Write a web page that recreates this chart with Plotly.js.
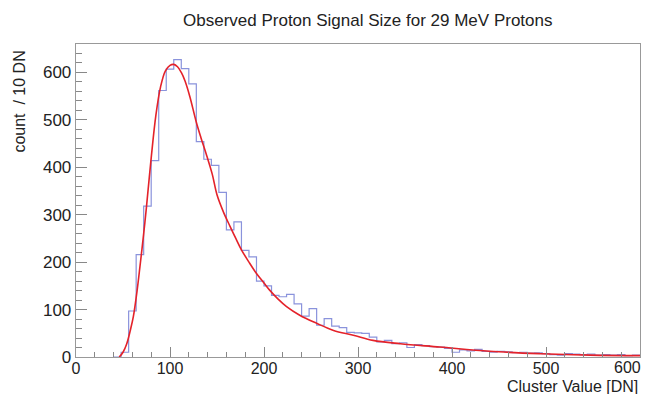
<!DOCTYPE html>
<html>
<head>
<meta charset="utf-8">
<script src="https://cdn.plot.ly/plotly-3.0.1.min.js"></script>
<style>html,body{margin:0;padding:0;background:#fff;}#plot{width:649px;height:394px;}</style>
</head>
<body>
<div id="plot"></div>
<script>
// Histogram: bins of 8 DN, first bin starts at 40 DN
const binStart = 40;
const binWidth = 8;
const counts = [0, 10, 97, 216, 318, 414, 562, 607, 627, 608, 576, 454, 417, 404, 347, 268, 285, 225, 211, 160,
  150, 130, 127, 132, 112, 86, 102, 67, 81, 65, 62, 52, 51, 50, 42, 32, 35, 28, 30, 20,
  26, 24, 22, 21, 18, 10, 15, 13, 16, 12, 10, 12, 11, 9, 10, 8, 9, 7, 5, 4,
  7, 6, 5, 6, 4, 5, 4, 5, 3, 4];

// Fit curve
const fitX = [46, 50, 54, 58, 61, 65, 68, 72, 75, 80, 85, 90, 95, 100, 104, 108, 112, 116, 121, 128, 133, 139, 145, 150, 157, 164, 170, 176, 184, 192, 200, 206, 215, 224, 238, 256, 274, 295, 316, 345, 387, 440, 494, 547, 600];
const fitY = [0, 10, 28, 58, 85, 140, 190, 260, 317, 420, 510, 570, 603, 615, 617, 612, 600, 582, 550, 495, 462, 425, 385, 342, 305, 275, 250, 226, 200, 176, 156, 141, 122, 106, 88, 71, 56, 46, 35, 28, 21, 12, 7, 4, 3];

const xTicks = [0, 100, 200, 300, 400, 500, 600];
const yTicks = [0, 100, 200, 300, 400, 500, 600];

const histX = [];
const histY = [];
for (let i = 0; i < counts.length; i++) {
  histX.push(binStart + i * binWidth);
  histY.push(counts[i]);
}
histX.push(binStart + counts.length * binWidth);
histY.push(counts[counts.length - 1]);

const font = 'Liberation Sans, Arial, Helvetica, sans-serif';
const lastX = xTicks[xTicks.length - 1];

const data = [
  {x: histX, y: histY, type: 'scatter', mode: 'lines', line: {shape: 'hv', color: '#8a93dc', width: 1.2}, hoverinfo: 'skip'},
  {x: fitX, y: fitY, type: 'scatter', mode: 'lines', line: {shape: 'spline', smoothing: 1, color: '#e4222a', width: 1.6}, hoverinfo: 'skip'}
];

const layout = {
  width: 649, height: 394,
  margin: {l: 76, r: 9, t: 44, b: 37},
  paper_bgcolor: '#fff', plot_bgcolor: '#fff',
  showlegend: false,
  font: {family: font, size: 16, color: '#222'},
  xaxis: {
    range: [0, 600], tickvals: xTicks, ticktext: xTicks.map((v, i) => i === xTicks.length - 1 ? '' : String(v)),
    ticks: 'inside', ticklen: 10, tickcolor: '#888', tickwidth: 1,
    minor: {dtick: 20, ticks: 'inside', ticklen: 5, tickcolor: '#888', tickwidth: 1},
    showgrid: false, zeroline: false,
    showline: true, mirror: true, linecolor: '#999', linewidth: 1.3,
    ticklabelstandoff: -4,
    tickfont: {family: font, size: 16, color: '#222'}
  },
  yaxis: {
    range: [0, 660], tickvals: yTicks, ticktext: yTicks.map(String),
    ticks: 'inside', ticklen: 11, tickcolor: '#888', tickwidth: 1,
    minor: {dtick: 20, ticks: 'inside', ticklen: 6, tickcolor: '#888', tickwidth: 1},
    showgrid: false, zeroline: false,
    showline: true, mirror: true, linecolor: '#999', linewidth: 1.3,
    tickfont: {family: font, size: 17, color: '#222'}
  },
  annotations: [
    {text: 'Observed Proton Signal Size for 29 MeV Protons', xref: 'paper', yref: 'paper', x: 0.517, y: 1, yshift: 24, xanchor: 'center', yanchor: 'middle', showarrow: false, font: {family: font, size: 17, color: '#222'}},
    {text: 'Cluster Value [DN]', xref: 'paper', yref: 'paper', x: 1, y: 0, yshift: -29, xanchor: 'right', yanchor: 'middle', showarrow: false, font: {family: font, size: 16, color: '#222'}},
    {text: 'count  / 10 DN', xref: 'paper', yref: 'paper', x: 0, xshift: -56, y: 0.816, xanchor: 'center', yanchor: 'middle', textangle: -90, showarrow: false, font: {family: font, size: 16, color: '#222'}},
    {text: String(lastX), xref: 'x', yref: 'paper', x: lastX, y: 0, xshift: 3, yshift: 0, xanchor: 'right', yanchor: 'top', showarrow: false, font: {family: font, size: 16, color: '#222'}}
  ]
};

Plotly.newPlot('plot', data, layout, {staticPlot: true, displayModeBar: false});
</script>
</body>
</html>
